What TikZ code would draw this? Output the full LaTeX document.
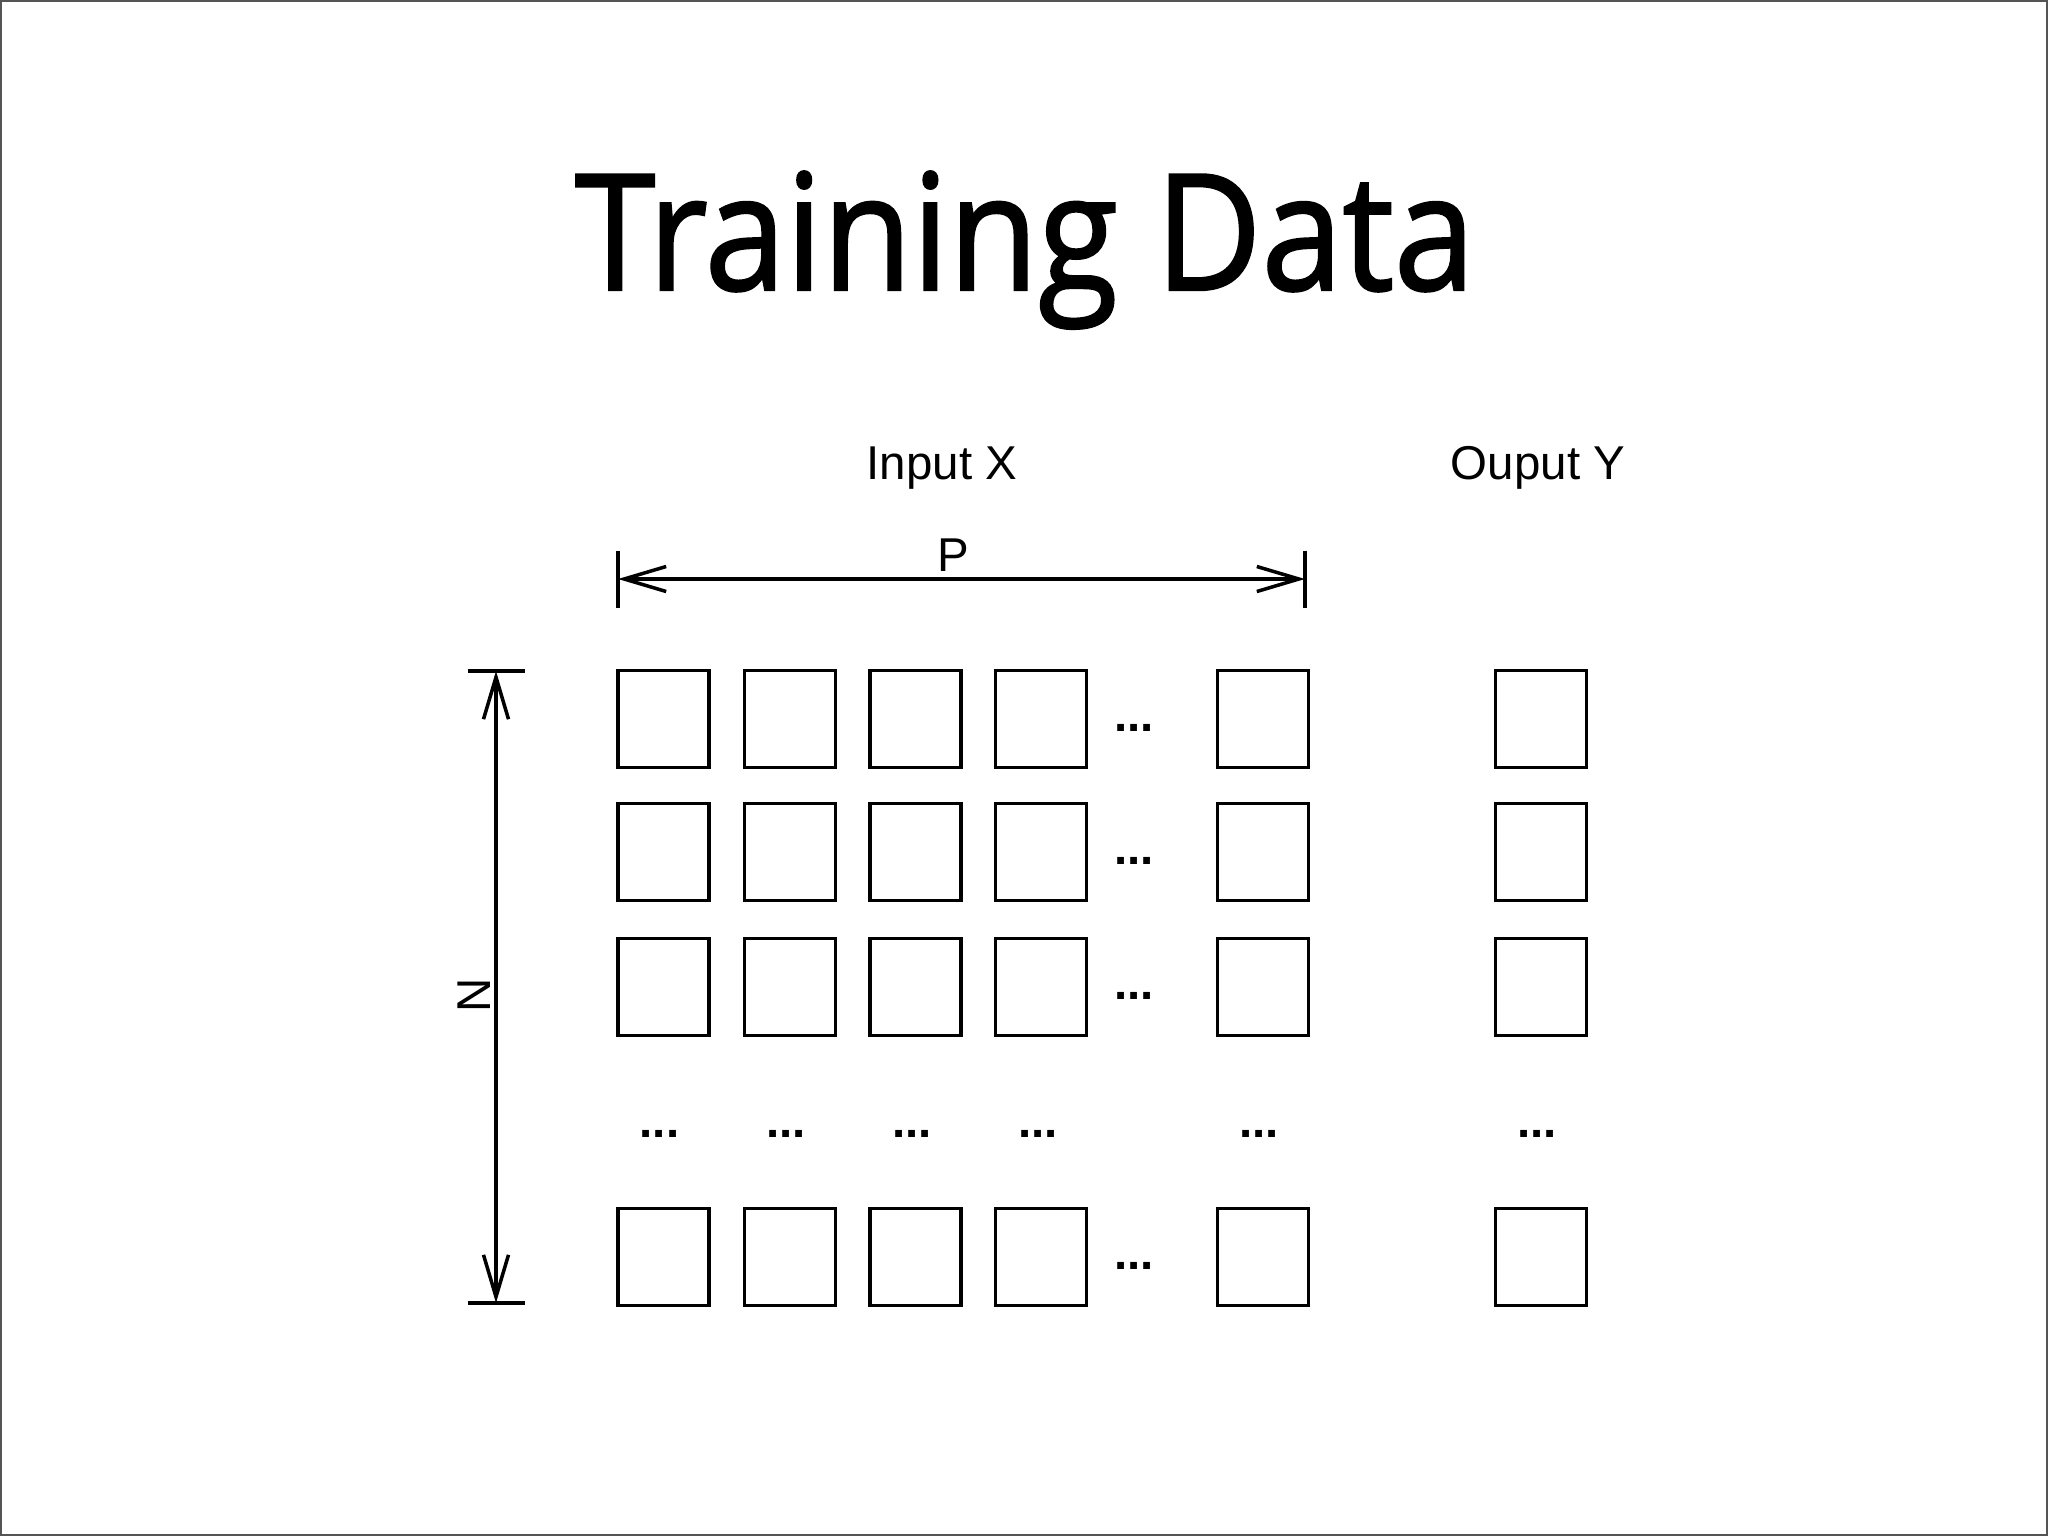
\documentclass[tikz,border=0pt]{standalone}
\usepackage{fontspec}
\usepackage{graphicx}
\setmainfont{Liberation Sans}
\newfontfamily\titlefont[FakeBold=1.5]{Open Sans}
\usetikzlibrary{arrows.meta, positioning}
\definecolor{framegray}{RGB}{85,85,85}

\begin{document}
\begin{tikzpicture}[x=0.01cm, y=-0.01cm, >={Straight Barb[length=4.2mm, width=2.5mm]},
    cell/.style={draw, line width=1.1pt, minimum width=0.91cm, minimum height=0.97cm, inner sep=0pt},
    dim/.style={line width=1pt},
    lbl/.style={font=\fontsize{13.5}{16}\selectfont, inner sep=0pt}]
    % Page and frame
    \useasboundingbox (0,0) rectangle (2048,1536);
    \draw[framegray, line width=0.45pt] (0.8,0.8) rectangle (2047.2,1535.2);

    % Title
    \node[anchor=base, inner sep=0pt] (title) at (1025,290)
        {\scalebox{0.9}[1]{\titlefont\fontsize{46}{50}\selectfont Training Data}};

    % Headers
    \node[lbl, anchor=base] (inputX) at (942,479) {Input X};
    \node[lbl, anchor=base] (outputY) at (1538,479) {Ouput Y};

    % Grid of samples
    \foreach \r/\y in {1/719, 2/852, 3/987, 5/1257} {
        \foreach \c/\x in {1/663.5, 2/790, 3/915.5, 4/1041, 5/1263}
            \node[cell] (cell-\r-\c) at (\x,\y) {};
        \node[cell] (out-\r) at (1541,\y) {};
        \node[lbl] (hdots-\r) at (1134,\y+9) {\textbf{...}};
    }
    \foreach \c/\x in {1/659.5, 2/786, 3/912, 4/1038, 5/1259, 6/1537}
        \node[lbl] (vdots-\c) at (\x,1134) {\textbf{...}};

    % Width P
    \coordinate (pL) at (618,579);
    \coordinate (pR) at (1305,579);
    \draw[dim] (pL) ++(0,-28.5) -- ++(0,57);
    \draw[dim] (pR) ++(0,-28.5) -- ++(0,57);
    \draw[dim, <->] (pL) -- (pR);
    \node[lbl, anchor=base] (pLabel) at (953,571) {P};

    % Height N
    \coordinate (nT) at (496,671);
    \coordinate (nB) at (496,1303);
    \draw[dim] (nT) ++(-28.5,0) -- ++(57,0);
    \draw[dim] (nB) ++(-28.5,0) -- ++(57,0);
    \draw[dim, <->] (nT) -- (nB);
    \node[lbl, rotate=90] (nLabel) at (474,995) {N};
\end{tikzpicture}
\end{document}
